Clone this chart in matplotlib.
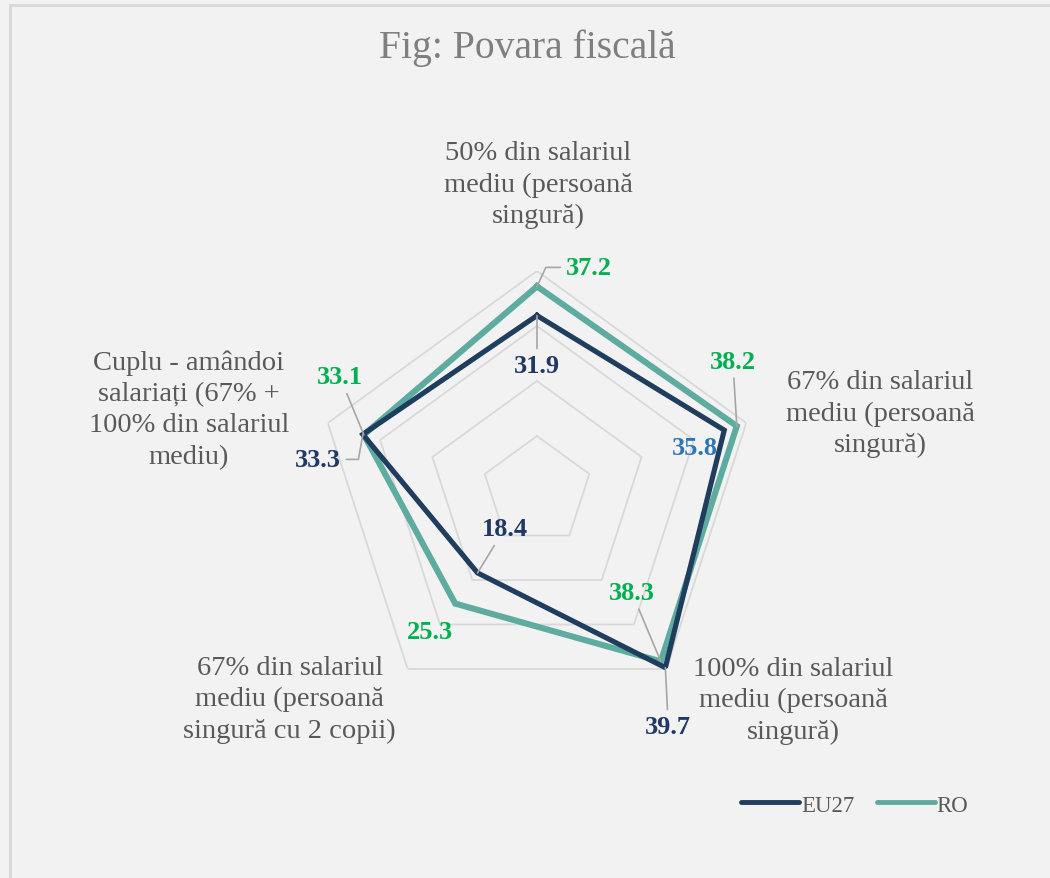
import numpy as np
import matplotlib
matplotlib.use("Agg")
import matplotlib.pyplot as plt
from matplotlib.patches import Rectangle

# ---------------- data ----------------
categories = [
    "50% din salariul\nmediu (persoană\nsingură)",
    "67% din salariul\nmediu (persoană\nsingură)",
    "100% din salariul\nmediu (persoană\nsingură)",
    "67% din salariul\nmediu (persoană\nsingură cu 2 copii)",
    "Cuplu - amândoi\nsalariați (67% +\n100% din salariul\nmediu)",
]
eu27 = [31.9, 35.8, 39.7, 18.4, 33.3]
ro = [37.2, 38.2, 38.3, 25.3, 33.1]
ring_levels = [10, 20, 30, 40]
series_names = ["EU27", "RO"]
title = "Fig: Povara fiscală"

# ---------------- style ----------------
W, H, DPI = 1050, 879, 100
BG = "#f2f2f2"
C_EU = "#1f3d5c"
C_RO = "#5eaba0"
C_EU_LBL = "#1f3864"
C_RO_LBL = "#00b050"
C_BLUE_LBL = "#2e75b6"
GRID = "#d9d9d9"
TXT = "#595959"
SERIF = ["Liberation Serif", "DejaVu Serif"]

fig = plt.figure(figsize=(W / DPI, H / DPI), dpi=DPI, facecolor=BG)

# border (left/top visible)
fig.patches.append(Rectangle((10 / W, -0.05), 1.2, 1 - 6 / H + 0.05,
                             transform=fig.transFigure, fill=False,
                             edgecolor="#d9d9d9", linewidth=2.2, zorder=0))

cx, cy, R = 537, 492, 220
ax = fig.add_axes([(cx - R) / W, (H - cy - R) / H, 2 * R / W, 2 * R / H],
                  projection="polar")
ax.set_facecolor("none")
ax.set_theta_offset(np.pi / 2)
ax.set_theta_direction(-1)
ax.set_ylim(0, 40)
ax.grid(False)
ax.spines["polar"].set_visible(False)
ax.set_xticks([])
ax.set_yticks([])

n = len(categories)
theta = np.linspace(0, 2 * np.pi, n, endpoint=False)
theta_c = np.append(theta, theta[0])

for lv in ring_levels:
    ax.plot(theta_c, [lv] * (n + 1), color=GRID, linewidth=1.3, zorder=1)

ax.plot(theta_c, eu27 + eu27[:1], color=C_EU, linewidth=3.7, zorder=3,
        solid_joinstyle="miter", label=series_names[0])
ax.plot(theta_c, ro + ro[:1], color=C_RO, linewidth=4.4, zorder=2,
        solid_joinstyle="miter", label=series_names[1])

# data labels: (offset px, color, leader connection or None)
STRAIGHT = "arc3"
eu_offsets = [(0, -50, C_EU_LBL, STRAIGHT), (-29, -17, C_BLUE_LBL, None),
              (3, -59, C_EU_LBL, STRAIGHT), (27, 44, C_EU_LBL, STRAIGHT),
              (-45, -25, C_EU_LBL, "angle,angleA=0,angleB=80,rad=0")]
ro_offsets = [(52, 19, C_RO_LBL, "angle,angleA=0,angleB=65,rad=0"),
              (-4, 65, C_RO_LBL, STRAIGHT),
              (-29, 69, C_RO_LBL, STRAIGHT), (-25, -28, C_RO_LBL, None),
              (-24, 58, C_RO_LBL, STRAIGHT)]

for vals, offs in ((eu27, eu_offsets), (ro, ro_offsets)):
    for t, v, (dx, dy, col, conn) in zip(theta, vals, offs):
        kw = {}
        if conn:
            kw["arrowprops"] = dict(arrowstyle="-", color="#a6a6a6", lw=1.2,
                                    shrinkA=2, shrinkB=0,
                                    connectionstyle=conn)
        ax.annotate(f"{v:.1f}", xy=(t, v), xytext=(dx, dy),
                    textcoords="offset pixels", ha="center", va="center",
                    fontsize=19, fontweight="bold", color=col,
                    family=SERIF, zorder=5, annotation_clip=False, **kw)

# category labels
cat_offsets = [(1, 87), (134, 10), (127, -31), (-118, -30), (-139, 14)]
for t, lab, (dx, dy) in zip(theta, categories, cat_offsets):
    ax.annotate(lab, xy=(t, 40), xytext=(dx, dy), textcoords="offset pixels",
                ha="center", va="center", multialignment="center",
                fontsize=20.5, color=TXT, family=SERIF, linespacing=1.34,
                annotation_clip=False)

fig.text(527 / W, 1 - 48 / H, title, ha="center", va="center",
         fontsize=28.5, color="#7f7f7f", family=SERIF)

leg = fig.legend(loc="center", bbox_to_anchor=(855 / W, 1 - 806 / H),
                 ncol=2, frameon=False, handlelength=2.5, handletextpad=0.1,
                 columnspacing=1.0, prop={"family": SERIF, "size": 16.5})
for txt in leg.get_texts():
    txt.set_color(TXT)
for h in leg.legend_handles:
    h.set_solid_capstyle("round")
    h.set_linewidth(3.5)

fig.savefig("out.png", dpi=DPI, facecolor=BG)
